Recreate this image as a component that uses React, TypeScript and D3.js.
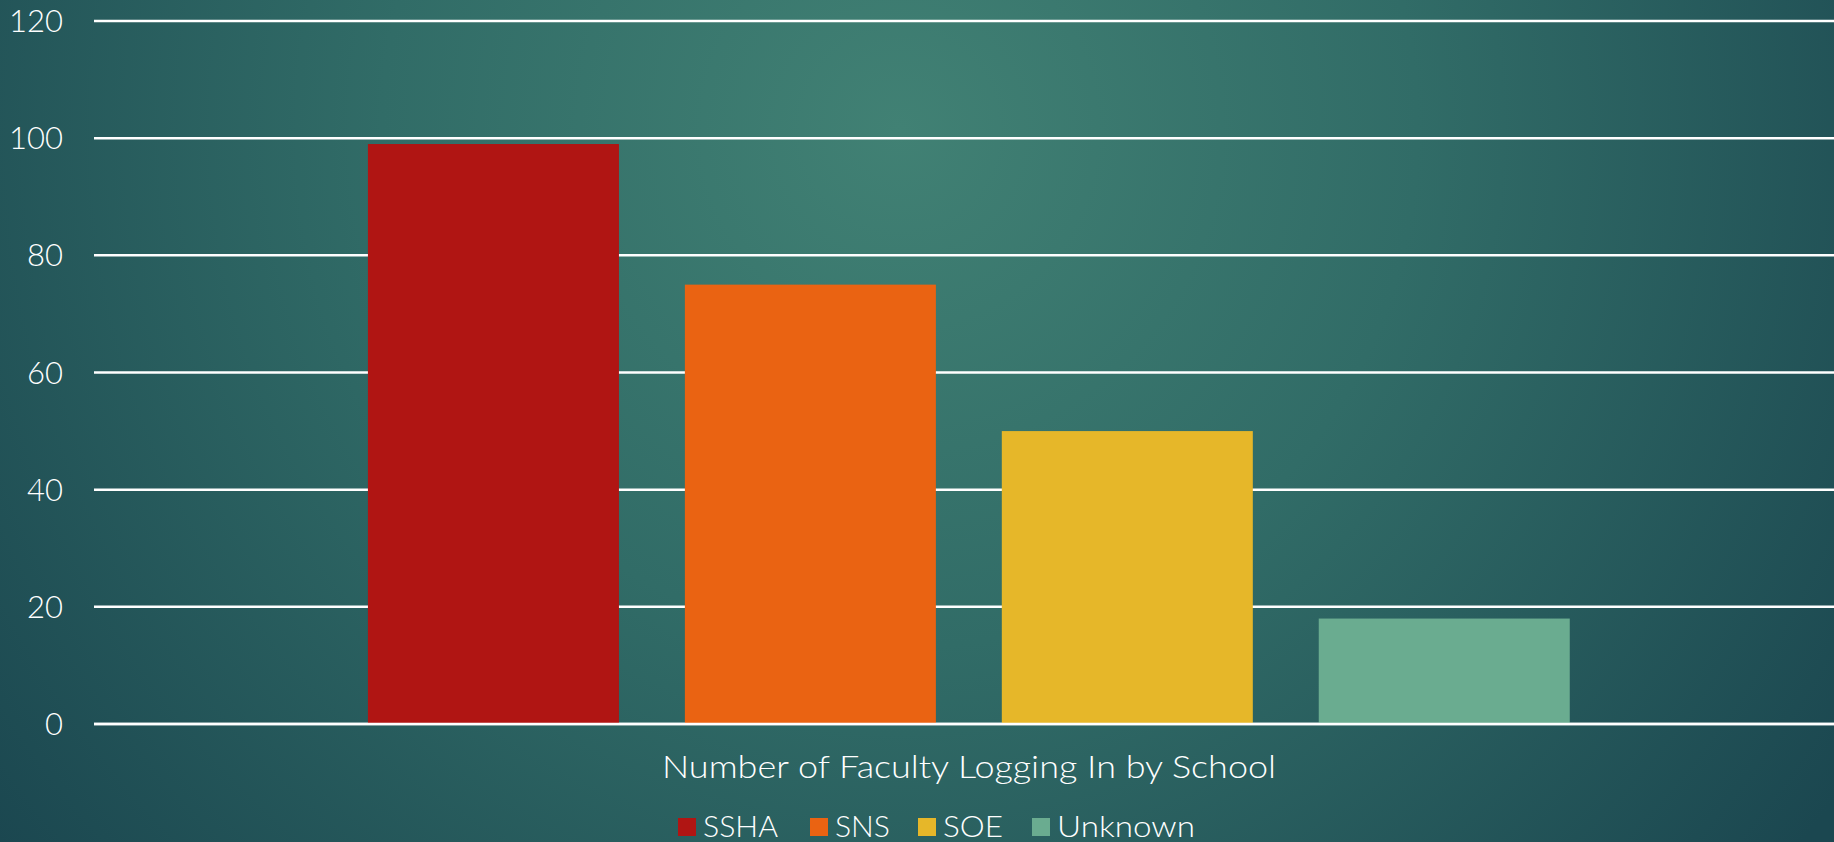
import * as d3 from "d3";
import { useEffect, useRef } from "react";

const schools = ["SSHA", "SNS", "SOE", "Unknown"];
const facultyCounts = [99, 75, 50, 18];
const schoolColors = ["#B01513", "#EA6312", "#E6B729", "#6AAC90"];
const yTicks = [0, 20, 40, 60, 80, 100, 120];
const categoryLabel = "Number of Faculty Logging In by School";

const W = 1834;
const H = 842;
const FONT = "Lato, 'Open Sans', sans-serif";

const App = () => {
  const chartRef = useRef<SVGSVGElement | null>(null);

  useEffect(() => {
    document.body.style.margin = "0";
    drawChart();
  }, []);

  const drawChart = () => {
    if (!chartRef.current) return;
    const root = d3.select(chartRef.current);
    root.selectAll("*").remove();

    // 배경 그라데이션
    const defs = root.append("defs");
    const grad = defs
      .append("radialGradient")
      .attr("id", "bg")
      .attr("gradientUnits", "userSpaceOnUse")
      .attr("cx", 900)
      .attr("cy", 130)
      .attr("r", 1150);
    grad.append("stop").attr("offset", "0%").attr("stop-color", "#418174");
    grad.append("stop").attr("offset", "45%").attr("stop-color", "#316c67");
    grad.append("stop").attr("offset", "100%").attr("stop-color", "#1b4750");
    root.append("rect").attr("width", W).attr("height", H).attr("fill", "url(#bg)");

    const plot = { left: 94, right: W, top: 21, bottom: 724 };

    const yScale = d3.scaleLinear().domain([0, 120]).range([plot.bottom, plot.top]);
    const xScale = d3
      .scaleBand()
      .domain(schools)
      .range([plot.left, plot.right])
      .paddingInner(0.208)
      .paddingOuter(0.849)
      .align(0.509);

    // 그리드
    root
      .append("g")
      .selectAll("line")
      .data(yTicks)
      .join("line")
      .attr("x1", plot.left)
      .attr("x2", plot.right)
      .attr("y1", (d) => yScale(d))
      .attr("y2", (d) => yScale(d))
      .attr("stroke", "#ffffff")
      .attr("stroke-width", 2.5);

    // Y축 라벨
    root
      .append("g")
      .selectAll("text")
      .data(yTicks)
      .join("text")
      .attr("x", 63)
      .attr("y", (d) => yScale(d))
      .attr("dy", "0.36em")
      .attr("text-anchor", "end")
      .style("font-family", FONT)
      .style("font-size", "31px")
      .style("font-weight", 300)
      .style("fill", "#ffffff")
      .text((d) => d);

    // 막대
    root
      .append("g")
      .selectAll("rect")
      .data(schools)
      .join("rect")
      .attr("x", (d) => xScale(d)!)
      .attr("y", (d, i) => yScale(facultyCounts[i]))
      .attr("width", xScale.bandwidth())
      .attr("height", (d, i) => yScale(0) - yScale(facultyCounts[i]))
      .attr("fill", (d, i) => schoolColors[i]);

    // 0 축선 위로
    root
      .append("line")
      .attr("x1", plot.left)
      .attr("x2", plot.right)
      .attr("y1", yScale(0))
      .attr("y2", yScale(0))
      .attr("stroke", "#ffffff")
      .attr("stroke-width", 2.5);

    // 카테고리 라벨 (Century Gothic 폭에 맞춤)
    root
      .append("text")
      .attr("x", 662)
      .attr("y", 778)
      .attr("textLength", 614)
      .attr("lengthAdjust", "spacingAndGlyphs")
      .style("font-family", FONT)
      .style("font-size", "31px")
      .style("font-weight", 300)
      .style("fill", "#ffffff")
      .text(categoryLabel);

    // 범례
    const legendX = [678, 810, 918, 1032];
    const legendTextW = [75, 55, 60, 138];
    const legend = root
      .append("g")
      .selectAll("g")
      .data(schools)
      .join("g")
      .attr("transform", (d, i) => `translate(${legendX[i]},818)`);
    legend
      .append("rect")
      .attr("width", 18)
      .attr("height", 18)
      .attr("fill", (d, i) => schoolColors[i]);
    legend
      .append("text")
      .attr("x", 25)
      .attr("y", 19)
      .attr("textLength", (d, i) => legendTextW[i])
      .attr("lengthAdjust", "spacingAndGlyphs")
      .style("font-family", FONT)
      .style("font-size", "30px")
      .style("font-weight", 300)
      .style("fill", "#ffffff")
      .text((d) => d);
  };

  return <svg ref={chartRef} width={W} height={H} style={{ display: "block" }} />;
};

export default App;
